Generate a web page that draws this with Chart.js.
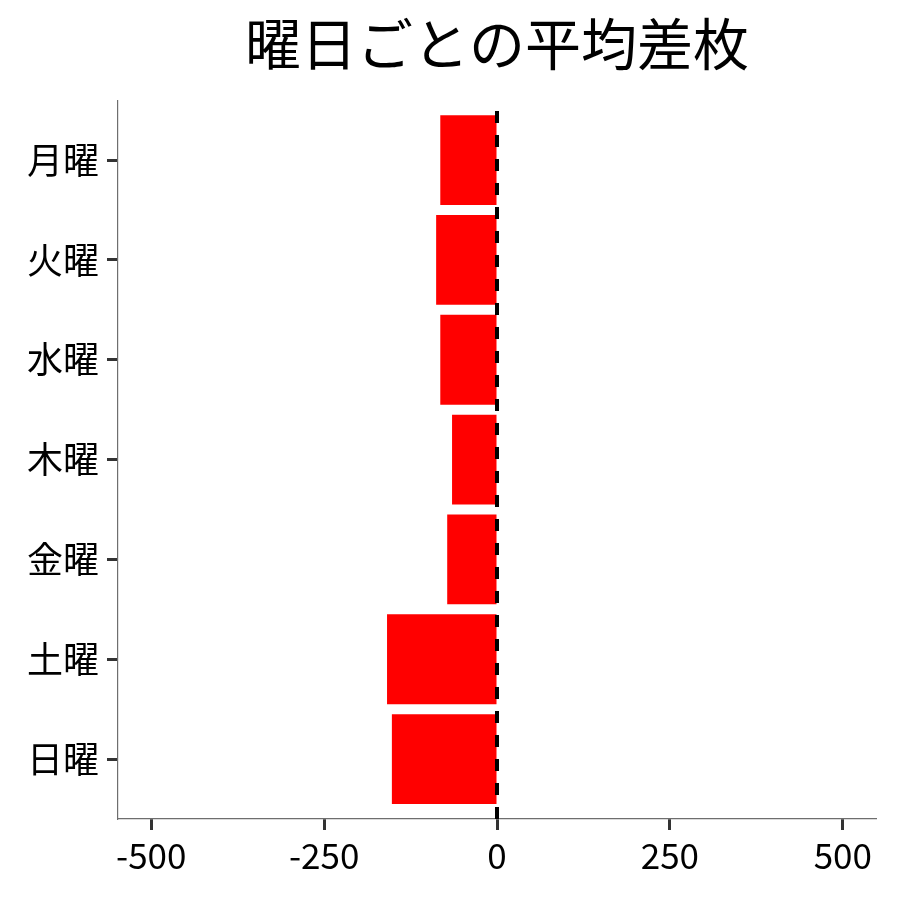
<!DOCTYPE html>
<html>
<head>
<meta charset="utf-8">
<script src="https://cdn.jsdelivr.net/npm/chart.js@4"></script>
<style>
  body { margin: 0; background: #fff; }
</style>
</head>
<body>
<canvas id="graph" width="900" height="900"></canvas>
<script>
const red =   'rgb(255, 0, 0)'
const black = 'rgb(0, 0, 0)'
const grey =  'rgb(110, 110, 110)'
const dark =  'rgb(51, 51, 51)'

// weekdays, top to bottom
const days = ['月曜', '火曜', '水曜', '木曜', '金曜', '土曜', '日曜']
// average difference per weekday
const avgDiff = [-82, -88, -82, -65, -72, -159, -152]
// x-axis ticks
const xTicks = [-500, -250, 0, 250, 500]
const xRange = [-548, 548]

const fontFamily = '"Noto Sans CJK JP", "Noto Sans", sans-serif'

// dashed line at x = 0 drawn with the x scale
const zeroLine = {
    id: 'zeroLine',
    afterDatasetsDraw(chart) {
        const x = chart.scales.x.getPixelForValue(0)
        const ctx = chart.ctx
        ctx.save()
        ctx.strokeStyle = black
        ctx.lineWidth = 4
        ctx.setLineDash([12, 12])
        ctx.beginPath()
        ctx.moveTo(x, chart.chartArea.bottom)
        ctx.lineTo(x, chart.chartArea.top)
        ctx.stroke()
        ctx.restore()
    }
}

const ctx = document.getElementById('graph')
const myChart = new Chart(ctx, {
    type: 'bar',
    data: {
        datasets: [{
            label: '平均差枚',
            data: days.map((d, i) => ({x: avgDiff[i], y: i + 1})),
            backgroundColor: red,
            borderWidth: 0,
            categoryPercentage: 0.9,
            barPercentage: 1.0,
        }]
    },
    options: {
        responsive: false,
        animation: false,
        indexAxis: 'y',
        layout: {
            padding: {left: 0, right: 24, top: 0, bottom: 0}
        },
        plugins: {
            legend: {display: false},
            tooltip: {enabled: false},
            title: {
                display: true,
                text: '曜日ごとの平均差枚',
                fullSize: false,
                color: black,
                font: {family: fontFamily, size: 56, weight: 'normal'},
                padding: {top: 10, bottom: 23}
            }
        },
        scales: {
            x: {
                type: 'linear',
                min: xRange[0],
                max: xRange[1],
                afterBuildTicks: (axis) => { axis.ticks = xTicks.map(v => ({value: v})) },
                afterFit: (axis) => { axis.height = 81 },
                ticks: {
                    color: black,
                    padding: 5,
                    font: {family: fontFamily, size: 35},
                    callback: (v) => String(v)
                },
                grid: {
                    drawOnChartArea: false,
                    drawTicks: true,
                    tickLength: 11,
                    tickWidth: 3,
                    tickColor: dark
                },
                border: {display: true, color: grey, width: 1.2}
            },
            y: {
                type: 'linear',
                reverse: true,
                offset: false,
                min: 0.4,
                max: days.length + 0.6,
                afterBuildTicks: (axis) => { axis.ticks = days.map((d, i) => ({value: i + 1})) },
                afterFit: (axis) => { axis.width = 118 },
                ticks: {
                    color: black,
                    padding: 8,
                    font: {family: fontFamily, size: 36},
                    callback: (v) => days[v - 1]
                },
                grid: {
                    offset: false,
                    drawOnChartArea: false,
                    drawTicks: true,
                    tickLength: 11,
                    tickWidth: 3,
                    tickColor: dark
                },
                border: {display: true, color: grey, width: 1.2}
            }
        }
    },
    plugins: [zeroLine]
})
</script>
</body>
</html>
